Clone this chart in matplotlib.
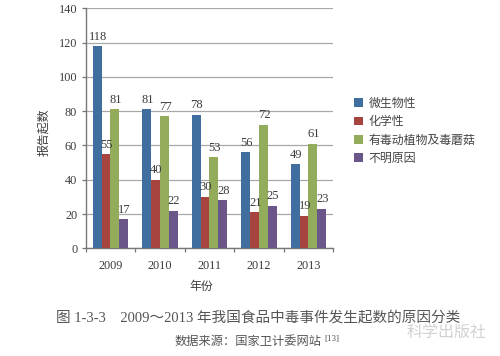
import numpy as np
import matplotlib
matplotlib.use("Agg")
import matplotlib.pyplot as plt

years = ["2009", "2010", "2011", "2012", "2013"]
microbial = [118, 81, 78, 56, 49]
chemical = [55, 40, 30, 21, 19]
toxic = [81, 77, 53, 72, 61]
unknown = [17, 22, 28, 25, 23]
series_names = ["微生物性", "化学性", "有毒动植物及毒蘑菇", "不明原因"]
colors = ["#3F6E9F", "#A8443F", "#93AC5C", "#6B5689"]
yticks = [0, 20, 40, 60, 80, 100, 120, 140]

FONT = ["Liberation Serif", "Noto Sans CJK SC"]
TXT = "#3c3c3c"
W, H = 500, 356

fig = plt.figure(figsize=(W / 100, H / 100), dpi=100)
ax = fig.add_axes([85.5 / W, 1 - 248.4 / H, 247.5 / W, 240.2 / H])

x = np.arange(len(years))
bw = 0.18
all_series = [microbial, chemical, toxic, unknown]
offsets = [-0.265, -0.085, 0.095, 0.275]

# white patch that the source leaves above the red bars
ax.bar(x + offsets[1], [8] * len(x), bw, bottom=chemical, color="white", zorder=2)

handles = []
for vals, off, col, name in zip(all_series, offsets, colors, series_names):
    b = ax.bar(x + off, vals, bw, color=col, label=name, zorder=3)
    handles.append(b)
    for xi, v in zip(x, vals):
        ax.annotate(str(v), (xi + off, v), xytext=(0.5, 6.8), textcoords="offset points",
                    ha="center", va="center", fontsize=9, color=TXT,
                    family=FONT, zorder=5)

ax.set_xlim(-0.5, 4.5)
ax.set_ylim(0, 140)
ax.set_yticks(yticks)
ax.set_yticklabels([str(t) for t in yticks], family=FONT, fontsize=8.8, color=TXT)
ax.set_xticks(np.arange(-0.5, 5.0, 1))
ax.set_xticklabels([])
ax.set_xticks(x, minor=True)
ax.set_xticklabels(years, minor=True, family=FONT, fontsize=8.8, color=TXT)
ax.tick_params(axis="x", which="minor", length=0, pad=8.5)
ax.tick_params(axis="x", which="major", length=3, color="#777777", width=0.9)
ax.tick_params(axis="y", length=3, color="#777777", width=0.9, pad=3)
ax.yaxis.grid(True, color="#a8a8a8", linewidth=0.9, zorder=1)
ax.set_axisbelow(True)
for s in ["top", "right"]:
    ax.spines[s].set_visible(False)
for s in ["left", "bottom"]:
    ax.spines[s].set_color("#777777")
    ax.spines[s].set_linewidth(1.0)

leg = fig.legend(handles=handles, loc="upper left", bbox_to_anchor=(354 / W, 1 - 98 / H),
                 frameon=False, prop={"family": FONT, "size": 8.6}, labelcolor="#444444",
                 handlelength=0.75, handleheight=0.75, handletextpad=0.5, labelspacing=0.52,
                 borderaxespad=0, borderpad=0)

fig.text(44 / W, 1 - 132 / H, "报告起数", rotation=90, ha="center", va="center",
         family=FONT, fontsize=8.6, color=TXT)
fig.text(201 / W, 1 - 287 / H, "年份", ha="center", va="center",
         family=FONT, fontsize=8.6, color=TXT)
fig.text(258.5 / W, 1 - 318 / H, "图 1-3-3    2009～2013 年我国食品中毒事件发生起数的原因分类",
         ha="center", va="center", family=FONT, fontsize=10.5, color="#555555")
fig.text(175 / W, 1 - 342 / H, "数据来源：国家卫计委网站", ha="left", va="center",
         family=FONT, fontsize=8.8, color="#555555")
fig.text(324.5 / W, 1 - 339 / H, "[13]", ha="left", va="center",
         family=FONT, fontsize=6.5, color="#555555")
fig.text(447 / W, 1 - 333 / H, "科学出版社", ha="center", va="center",
         family=FONT, fontsize=11.5, color="#d2d2d2")

fig.savefig("out.png", dpi=100)
